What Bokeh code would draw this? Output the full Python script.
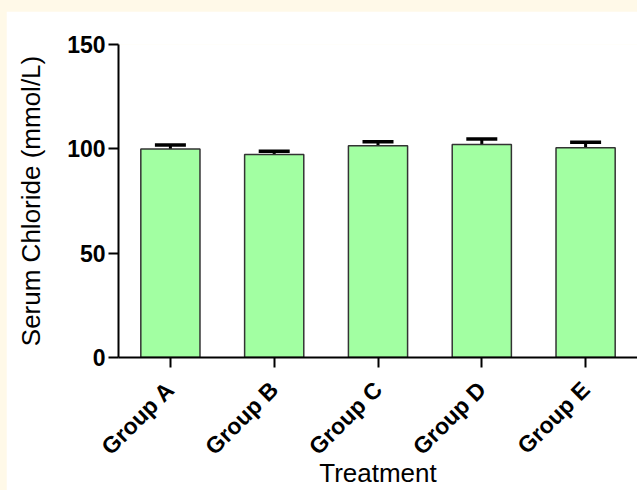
import math
from bokeh.plotting import figure
from bokeh.models import ColumnDataSource, Whisker, TeeHead, FixedTicker, Range1d
from bokeh.embed import file_html
from bokeh.resources import INLINE

groups = ["Group A", "Group B", "Group C", "Group D", "Group E"]
means = [99.9, 97.3, 101.5, 102.1, 100.5]
sems = [1.9, 1.6, 1.9, 2.6, 2.6]
y_ticks = [0, 50, 100, 150]

upper = [m + s for m, s in zip(means, sems)]
src = ColumnDataSource(dict(group=groups, mean=means, upper=upper))

p = figure(x_range=groups, y_range=Range1d(0, 150), width=631, height=479,
           output_backend="svg", toolbar_location=None,
           min_border_left=112, min_border_right=0, min_border_top=33, min_border_bottom=133)
p.margin = (11, 0, 0, 6)
p.background_fill_color = "white"
p.border_fill_color = "white"
p.outline_line_color = None
p.xgrid.grid_line_color = None
p.ygrid.grid_line_color = None
p.x_range.range_padding = 0

p.vbar(x="group", top="mean", width=0.57, source=src,
       fill_color="#A2FFA2", line_color="#333333", line_width=1.5)

w = Whisker(base="group", upper="upper", lower="mean", source=src, dimension="height",
            line_color="black", line_width=3,
            upper_head=TeeHead(size=31, line_color="black", line_width=3.5),
            lower_head=None)
p.add_layout(w)

font = "Liberation Sans"
for ax in (p.xaxis[0], p.yaxis[0]):
    ax.axis_line_width = 2
    ax.axis_line_color = "black"
    ax.major_tick_line_width = 2
    ax.major_tick_line_color = "black"
    ax.minor_tick_line_color = None
    ax.major_tick_in = 0
    ax.major_label_text_font = font
    ax.major_label_text_font_style = "bold"
    ax.major_label_text_color = "black"
    ax.axis_label_text_font = font
    ax.axis_label_text_font_style = "normal"
    ax.axis_label_text_color = "black"
    ax.axis_label_text_font_size = "26px"

p.yaxis.ticker = FixedTicker(ticks=y_ticks)
p.yaxis.major_tick_out = 10
p.yaxis.major_label_standoff = 3
p.yaxis.major_label_text_font_size = "23px"
p.yaxis.axis_label = "Serum Chloride (mmol/L)"
p.yaxis.axis_label_standoff = 18

p.xaxis.major_tick_out = 10
p.xaxis.major_label_standoff = 18
p.xaxis.major_label_text_font_size = "23px"
p.xaxis.major_label_orientation = math.pi / 4
p.xaxis.axis_label = "Treatment"
p.xaxis.axis_label_standoff = -14

template = """
{% block postamble %}
<style>
html, body { background: #FFF9E8; margin: 0; }
</style>
{% endblock %}
"""

open("out.html", "w").write(file_html(p, INLINE, template=template))
